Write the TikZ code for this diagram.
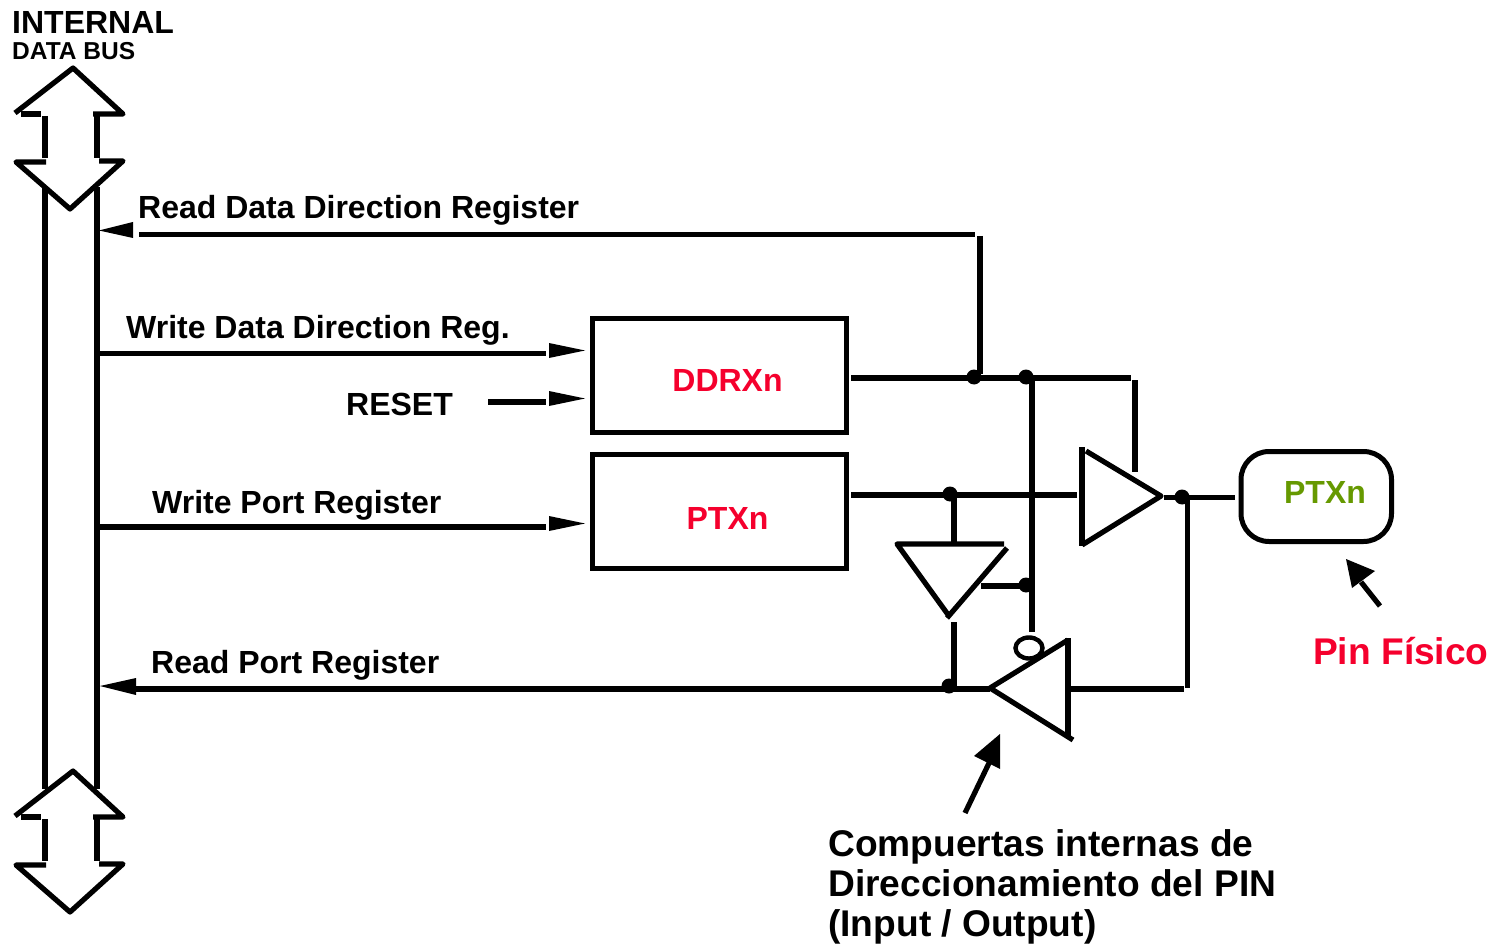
\documentclass[tikz,border=0pt]{standalone}
\usepackage{fontspec}
\setmainfont{Liberation Sans}
\definecolor{pinred}{HTML}{F5002D}
\definecolor{pingreen}{HTML}{669900}
\tikzset{
  wire/.style={line width=5.2pt,line cap=butt},
  shapeline/.style={line width=5.2pt,line join=round,line cap=butt},
  reg/.style={draw,line width=5pt,anchor=north west,inner sep=0pt,outer sep=0pt},
  junction/.style={circle,fill=black,inner sep=0pt,minimum size=15pt},
  headfill/.style={fill=black,draw=none},
  lab/.style={anchor=base west,inner sep=0pt,font=\fontsize{32}{32}\selectfont\bfseries},
  big/.style={anchor=base west,inner sep=0pt,font=\fontsize{37.15}{37}\selectfont\bfseries},
  regtext/.style={anchor=base,inner sep=0pt,font=\fontsize{32}{32}\selectfont\bfseries,text=pinred}
}
\begin{document}
\begin{tikzpicture}[x=1pt,y=-1pt]
\useasboundingbox (0,0) rectangle (1497,944);
% bus arrows
\foreach \d in {0,703}{
\begin{scope}[yshift=-\d pt]
\draw[shapeline] (15,113) -- (73,68) -- (123,114) -- (93,114);
\draw[shapeline] (21,114) -- (41,114);
\draw[shapeline] (45,116) -- (45,158);
\draw[shapeline] (97,116) -- (97,158);
\draw[shapeline] (46,162) -- (16,162) -- (70,209) -- (123,161) -- (99,161);
\end{scope}}
\coordinate (busLtop) at (45,187);
\coordinate (busLbot) at (45,789);
\coordinate (busRtop) at (97,187);
\coordinate (busRbot) at (97,789);
\draw[wire] (busLtop) -- (busLbot);
\draw[wire] (busRtop) -- (busRbot);
% registers
\node[reg,minimum width=254.5pt,minimum height=114pt] (ddr) at (592,318.5) {};
\node[reg,minimum width=254.5pt,minimum height=114pt] (ptx) at (592,454.5) {};
\node[reg,rounded corners=28pt,minimum width=150.5pt,minimum height=90pt] (pin) at (1241,451.5) {};
\node[regtext] (ddrt) at (727.5,391) {DDRXn};
\node[regtext] (ptxt) at (727.5,529) {PTXn};
\node[anchor=base,inner sep=0pt,font=\fontsize{32}{32}\selectfont\bfseries,text=pingreen] (pint) at (1325,503) {PTXn};
% labels
\node[anchor=base west,inner sep=0pt,font=\fontsize{32}{32}\selectfont\bfseries] (l1) at (12,34) {INTERNAL};
\node[anchor=base west,inner sep=0pt,font=\fontsize{24.5}{24}\selectfont\bfseries] (l2) at (12,60) {DATA BUS};
\node[lab] (rd) at (138,219) {Read Data Direction Register};
\node[lab] (wd) at (126,338) {Write Data Direction Reg.};
\node[lab] (rs) at (346,415) {RESET};
\node[lab] (wp) at (152,513) {Write Port Register};
\node[lab] (rp) at (151,673) {Read Port Register};
\node[big,text=pinred] (pf) at (1313,664) {Pin Físico};
\node[big] (c1) at (828,856) {Compuertas internas de};
\node[big] (c2) at (828,896) {Direccionamiento del PIN};
\node[big] (c3) at (828,936) {(Input / Output)};
% junctions
\node[junction] (j1) at (974,377) {};
\node[junction] (j2) at (1026,377) {};
\node[junction] (j3) at (950,494) {};
\node[junction] (j4) at (1026,585) {};
\node[junction] (j5) at (949,686) {};
\node[junction] (j6) at (1182,497) {};
% read DDR
\coordinate (a1) at (139,234.5); \coordinate (a2) at (975,234.5);
\coordinate (a3) at (980,236); \coordinate (a4) at (980,374);
\draw[wire] (a1) -- (a2);
\draw[wire] (a3) -- (a4);
\fill[headfill] (99,230.5) -- (133,222) -- (133,238) -- cycle;
% write DDR
\coordinate (b1) at (99,353.5); \coordinate (b2) at (546,353.5);
\draw[wire] (b1) -- (b2);
\fill[headfill] (585,350.5) -- (549,343) -- (549,358) -- cycle;
% reset
\coordinate (c1a) at (488,402); \coordinate (c2a) at (546,402);
\draw[wire] (c1a) -- (c2a);
\fill[headfill] (585,398.5) -- (549,391) -- (549,406) -- cycle;
% write port
\coordinate (d1) at (99,527); \coordinate (d2) at (546,527);
\draw[wire] (d1) -- (d2);
\fill[headfill] (585,523.5) -- (549,516) -- (549,531) -- cycle;
% read port
\coordinate (e1) at (135,689); \coordinate (e2) at (990,689);
\draw[wire] (e1) -- (e2);
\fill[headfill] (100,686) -- (136,678) -- (136,695) -- cycle;
% DDR output
\coordinate (f1) at (851,378); \coordinate (f2) at (1131,378);
\draw[wire] (f1) -- (f2);
\coordinate (g1) at (1135,380); \coordinate (g2) at (1135,472);
\draw[wire] (g1) -- (g2);
\coordinate (h1) at (1032,378); \coordinate (h2) at (1032,632);
\draw[wire] (h1) -- (h2);
% PTX output
\coordinate (i1) at (851,495); \coordinate (i2) at (1077,495);
\draw[wire] (i1) -- (i2);
\coordinate (k1) at (954,495); \coordinate (k2) at (954,544);
\draw[wire] (k1) -- (k2);
% input buffer
\draw[shapeline] (1004,544) -- (897,544) -- (949,616);
\draw[shapeline] (947,618) -- (1007,548);
\coordinate (m1) at (981,586); \coordinate (m2) at (1030,586);
\draw[wire] (m1) -- (m2);
\coordinate (n1) at (954,622); \coordinate (n2) at (954,688);
\draw[wire] (n1) -- (n2);
% output buffer
\draw[shapeline] (1082,447) -- (1082,546);
\draw[shapeline] (1086,451) -- (1161,496) -- (1082,545);
\coordinate (o1) at (1164,497.5); \coordinate (o2) at (1235,497.5);
\draw[wire] (o1) -- (o2);
\coordinate (p1) at (1187.5,498); \coordinate (p2) at (1187.5,688);
\draw[wire] (p1) -- (p2);
% tristate read buffer
\draw[shapeline] (1068,640) -- (990,688) -- (1073,740);
\draw[shapeline] (1068,638) -- (1068,737);
\draw[line width=4.4pt] (1029,648) ellipse [x radius=13.5pt,y radius=10.5pt];
\coordinate (q1) at (1071,689); \coordinate (q2) at (1184,689);
\draw[wire] (q1) -- (q2);
% pointers
\coordinate (r1) at (965,813); \coordinate (r2) at (990,761);
\draw[wire] (r1) -- (r2);
\fill[headfill] (1000,734) -- (974,756) -- (1000,769) -- cycle;
\coordinate (s1) at (1380,606); \coordinate (s2) at (1361,582);
\draw[wire] (s1) -- (s2);
\fill[headfill] (1346,559) -- (1352,588) -- (1375,571) -- cycle;
\end{tikzpicture}
\end{document}
